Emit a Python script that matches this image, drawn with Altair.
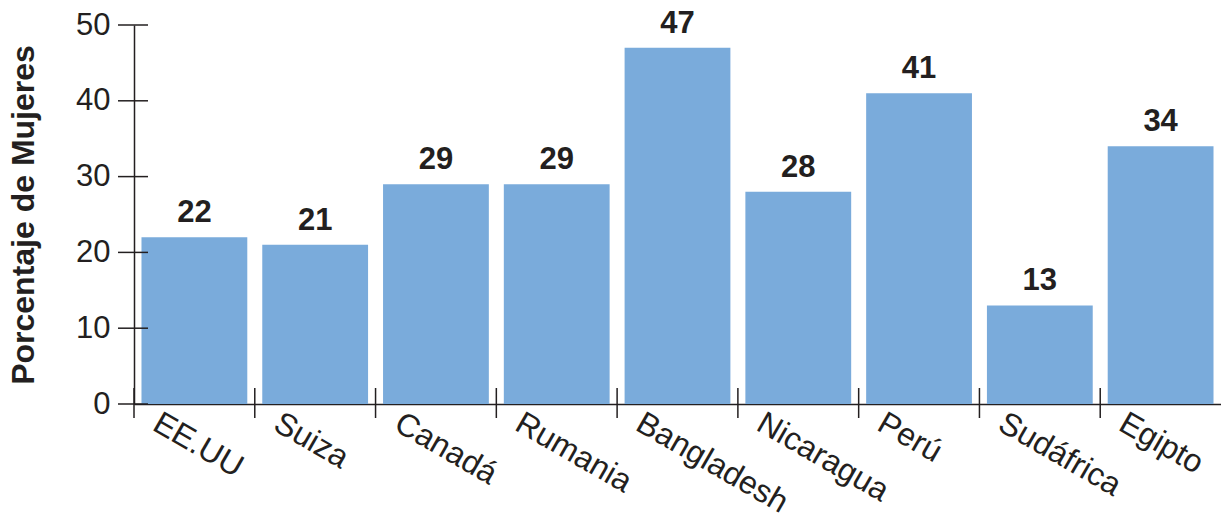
import altair as alt
import pandas as pd

countries = ["EE.UU", "Suiza", "Canadá", "Rumania", "Bangladesh", "Nicaragua", "Perú", "Sudáfrica", "Egipto"]
values = [22, 21, 29, 29, 47, 28, 41, 13, 34]
y_ticks = [0, 10, 20, 30, 40, 50]

W, H = 1087, 379
FONT = "Liberation Sans"
INK = "#231f20"
BAR = "#7aabdb"

df = pd.DataFrame({"pais": countries, "valor": values})
ticks_df = pd.DataFrame({"t": y_ticks})

xscale = alt.Scale(domain=countries, paddingInner=0, paddingOuter=0)
yscale = alt.Scale(domain=[0, 50], nice=False)

bars = alt.Chart(df).mark_bar(color=BAR, width=alt.RelativeBandSize(0.876)).encode(
    x=alt.X("pais:N", scale=xscale, sort=countries,
            axis=alt.Axis(title=None, ticks=False, grid=False, labelAngle=30, labelAlign="left",
                          labelBaseline="top", labelOffset=-31, labelPadding=3,
                          labelFont=FONT, labelFontSize=32, labelColor=INK,
                          domainColor=INK, domainWidth=1.5)),
    y=alt.Y("valor:Q", scale=yscale,
            axis=alt.Axis(title="Porcentaje de Mujeres", values=y_ticks, ticks=False, grid=False,
                          labelFont=FONT, labelFontSize=31, labelColor=INK, labelPadding=24,
                          domainColor=INK, domainWidth=1.5,
                          titleFont=FONT, titleFontSize=32, titleFontWeight="bold",
                          titleColor=INK, titleBaseline="alphabetic", titleX=-101)),
)

text = alt.Chart(df).mark_text(font=FONT, fontSize=31, fontWeight="bold", color=INK,
                               baseline="alphabetic", dy=-15).encode(
    x=alt.X("pais:N", scale=xscale, sort=countries, title=None),
    y=alt.Y("valor:Q", scale=yscale),
    text=alt.Text("valor:Q"),
)

yt = alt.Chart(ticks_df).mark_rule(color=INK, strokeWidth=1.5).encode(
    y=alt.Y("t:Q", scale=yscale, title="Porcentaje de Mujeres"),
    x=alt.value(-16),
    x2=alt.value(14),
)

xt = alt.Chart(df).mark_rule(color=INK, strokeWidth=1.5).encode(
    x=alt.X("pais:N", scale=xscale, sort=countries, bandPosition=0, title=None),
    y=alt.value(H - 16),
    y2=alt.value(H + 14),
)

chart = alt.layer(bars, text, yt, xt).properties(
    width=W, height=H,
    background="white",
    autosize=alt.AutoSizeParams(type="none"),
    padding={"left": 134, "top": 25, "right": 0, "bottom": 109},
).configure_axis(grid=False).configure_view(strokeWidth=0, strokeOpacity=0)

chart.save("out.html", embed_options={"renderer": "svg", "actions": False})
